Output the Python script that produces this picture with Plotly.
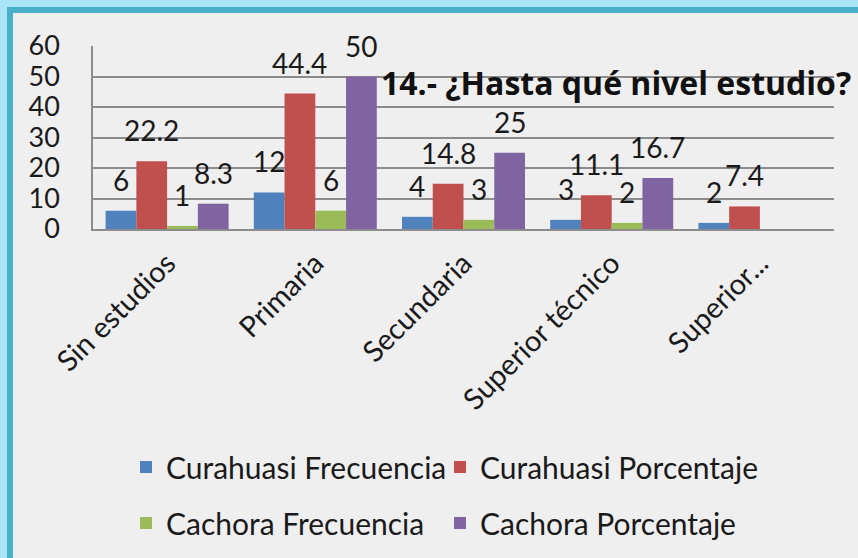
import plotly.graph_objects as go

categories = ["Sin estudios", "Primaria", "Secundaria", "Superior técnico", "Superior..."]
curahuasi_frecuencia = [6, 12, 4, 3, 2]
curahuasi_porcentaje = [22.2, 44.4, 14.8, 11.1, 7.4]
cachora_frecuencia = [1, 6, 3, 2, None]
cachora_porcentaje = [8.3, 50, 25, 16.7, None]
y_ticks = [0, 10, 20, 30, 40, 50, 60]

series = [
    ("Curahuasi Frecuencia", curahuasi_frecuencia, "#4f81bd"),
    ("Curahuasi Porcentaje", curahuasi_porcentaje, "#c0504d"),
    ("Cachora Frecuencia", cachora_frecuencia, "#9bbb59"),
    ("Cachora Porcentaje", cachora_porcentaje, "#8064a2"),
]

W, H = 858, 558
ML, MR, MT, MB = 93, 24, 46, 329
PW, PH = W - ML - MR, H - MT - MB
BARGAP = 0.17
FONT = "Lato"
TXT = "#1a1a1a"
BLUE_BG = "#a9e6f7"

def px_x(p):
    return (p - ML) / PW

def px_y(p):
    return (H - MB - p) / PH

fig = go.Figure()
legend_pos = [(126, 467), (440, 467), (126, 523), (440, 523)]
for i, (name, vals, col) in enumerate(series):
    lg = "legend" if i == 0 else f"legend{i+1}"
    fig.add_trace(go.Bar(name=name, x=categories, y=vals, marker_color=col,
                         marker_line_width=0, legend=lg))

cat_w = PW / len(categories)
bar_w = cat_w * (1 - BARGAP) / len(series)
annotations = []
for i, (name, vals, col) in enumerate(series):
    off = (i - (len(series) - 1) / 2) * bar_w
    for c, v in zip(categories, vals):
        if v is None:
            continue
        annotations.append(dict(x=c, y=v, xref="x", yref="y", text=f"{v:g}",
                                showarrow=False, xshift=off, yshift=31,
                                yanchor="middle",
                                font=dict(family=FONT, size=28, color=TXT)))

layout_legends = {}
for i, (lx, ly) in enumerate(legend_pos):
    key = "legend" if i == 0 else f"legend{i+1}"
    layout_legends[key] = dict(x=lx / W, y=(H - ly) / H, xref="container", yref="container",
                               xanchor="left", yanchor="middle", orientation="h",
                               bgcolor="rgba(0,0,0,0)", borderwidth=0,
                               font=dict(family=FONT, size=30, color=TXT))

fig.update_layout(
    width=W, height=H,
    margin=dict(l=ML, r=MR, t=MT, b=MB, autoexpand=False),
    paper_bgcolor=BLUE_BG,
    plot_bgcolor="rgba(0,0,0,0)",
    barmode="group", bargap=BARGAP, bargroupgap=0,
    title=dict(text="<b>14.- ¿Hasta qué nivel estudio?</b>", x=381 / W, y=(H - 84) / H,
               xref="container", yref="container", xanchor="left", yanchor="middle",
               font=dict(family="Open Sans", size=32, color="#111111")),
    xaxis=dict(showline=True, linecolor="#8c8c8c", linewidth=1.5, showgrid=False,
               tickangle=-45, ticklabelstandoff=4,
               tickfont=dict(family=FONT, size=29, color=TXT)),
    yaxis=dict(range=[0, 60], tickvals=y_ticks, showgrid=True, gridcolor="#8c8c8c",
               gridwidth=1.5, showline=True, linecolor="#8c8c8c", linewidth=1.5,
               zeroline=False, ticklabelstandoff=26,
               tickfont=dict(family=FONT, size=27, color=TXT)),
    annotations=annotations,
    shapes=[dict(type="rect", xref="paper", yref="paper",
                 x0=px_x(10), x1=px_x(880), y0=px_y(580), y1=px_y(10),
                 fillcolor="#efefef", line=dict(color="#4aafc8", width=6), layer="below")],
    showlegend=True,
    **layout_legends,
)

fig.write_html(
    "out.html",
    config={"displayModeBar": False},
    post_script=(
        "document.body.style.margin='0';"
        "document.body.style.overflow='hidden';"
        f"document.body.style.background='{BLUE_BG}';"
    ),
)
